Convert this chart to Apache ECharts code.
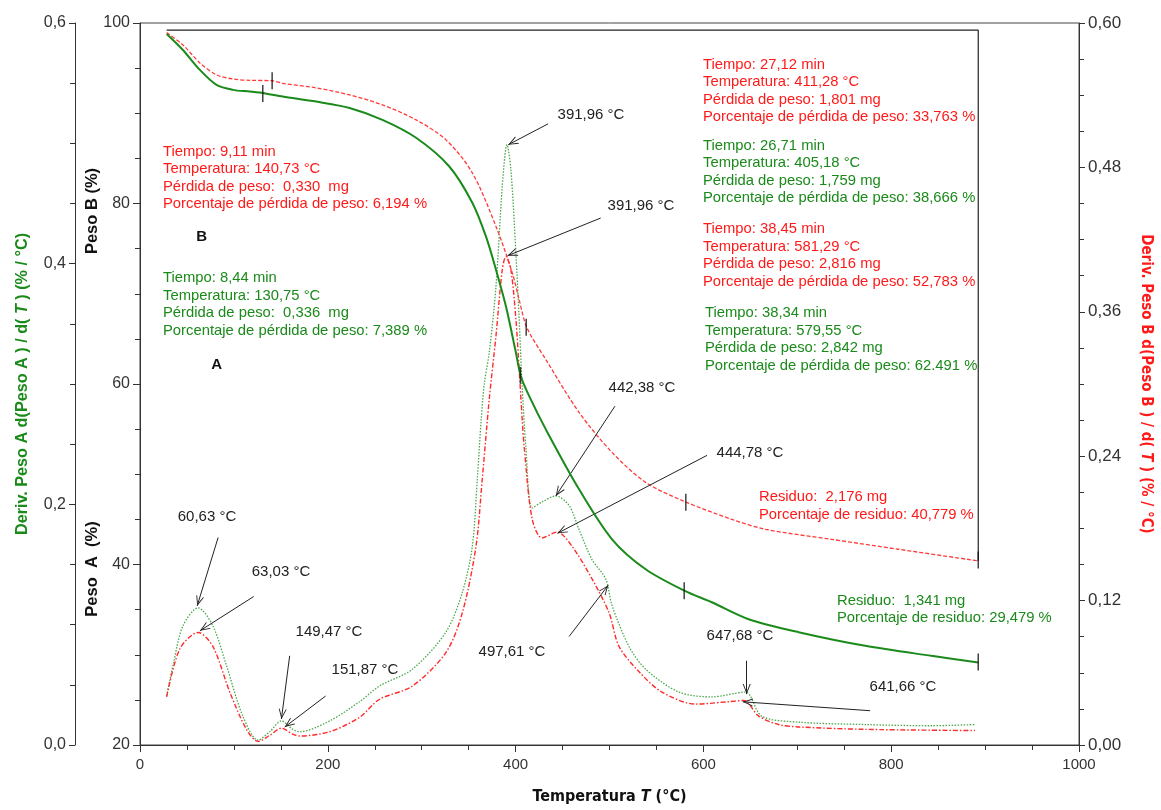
<!DOCTYPE html>
<html><head><meta charset="utf-8">
<script src="https://cdn.jsdelivr.net/npm/echarts@6/dist/echarts.min.js"></script>
<style>html,body{margin:0;padding:0;background:#fff}#c{width:1161px;height:810px}</style>
</head><body><div id="c"></div>
<script>
// ---- TG curve A (green solid), Peso A (%)
const tgTempA = [28.4,45.7,63.8,81.5,98.8,116.9,131.8,152.0,187.8,223.2,258.2,294.0,329.4,353.9,368.4,379.1,389.7,400.3,405.6,414.5,432.2,467.6,502.7,538.5,580.2,608.9,648.2,701.4,772.3,842.7,892.7];
const pesoA    = [98.78,97.01,94.8,93.14,92.59,92.40,92.22,91.85,91.29,90.59,89.27,87.28,84.10,80.08,76.35,72.67,68.61,63.49,60.86,58.65,54.97,48.33,42.79,39.47,37.07,35.82,33.94,32.50,30.99,29.88,29.15];
// ---- TG curve B (red dashed), Peso B (%)
const tgTempB = [28.4,45.7,63.8,81.5,98.8,116.9,141.0,152.0,187.8,223.2,258.2,294.0,325.9,353.9,379.1,396.4,403.8,412.0,432.2,467.6,502.7,538.5,582.0,630.2,666.0,736.4,807.6,892.7];
const pesoB    = [98.93,97.57,95.57,94.25,93.80,93.65,93.6,93.3,92.81,92.03,90.93,89.27,87.05,83.40,77.46,72.34,69.35,66.25,62.71,56.85,52.42,49.10,46.89,45.01,43.90,42.79,41.69,40.40];
// ---- DTG A (green dotted), left outer axis
const dtgTempA = [28.4,35.1,45.7,62.0,77.6,92.1,109.5,125.7,138.1,150.6,162.6,170.0,201.9,233.8,255.0,290.1,325.9,343.3,353.9,359.2,363.4,366.6,371.9,379.1,385.8,390.8,395.0,400.3,403.8,407.0,410.9,417.6,428.3,442.8,457.0,467.6,481.4,496.0,502.7,520.7,538.5,573.9,608.9,644.7,662.1,701.4,772.3,842.7,889.2];
const derivA   = [0.041,0.066,0.099,0.114,0.099,0.066,0.024,0.004,0.011,0.020,0.013,0.011,0.020,0.036,0.049,0.063,0.094,0.127,0.165,0.221,0.271,0.300,0.326,0.381,0.464,0.499,0.478,0.409,0.354,0.298,0.248,0.197,0.202,0.207,0.199,0.179,0.154,0.138,0.116,0.082,0.063,0.044,0.040,0.044,0.024,0.019,0.017,0.016,0.017];
// ---- DTG B (red dash-dot), right axis
const dtgTempB = [28.4,42.5,62.0,77.6,95.6,113.4,125.7,138.1,150.6,162.6,170.0,201.9,233.8,255.0,290.1,325.9,343.3,357.8,364.5,371.9,379.1,385.8,389.7,395.0,400.3,403.8,407.0,409.1,417.6,428.3,444.2,460.2,481.4,499.5,510.1,531.3,555.8,591.6,627.0,643.0,658.9,680.1,701.4,772.3,889.2];
const derivB   = [0.040,0.080,0.0935,0.082,0.044,0.013,0.003,0.008,0.014,0.009,0.0075,0.011,0.023,0.038,0.049,0.077,0.110,0.165,0.221,0.287,0.340,0.395,0.406,0.395,0.354,0.312,0.271,0.248,0.188,0.172,0.177,0.165,0.138,0.110,0.082,0.061,0.044,0.034,0.036,0.037,0.024,0.017,0.015,0.013,0.012];
// ---- step markers on TG curves
const markTemp = [130.75,140.73,405.18,411.28,579.55,581.29,892.7,892.7];
const markPeso = [92.2,93.6,60.95,66.3,37.1,46.9,29.2,40.5];
// ---- reference line (black)
const refTemp = [28.4,892.7,892.7];
const refPeso = [99.2,99.2,40.4];
// ---- arrows [tailT, tailD, headT, headD] in derivative units
const arrows = [
  [83.2,0.1724,60.9,0.1156],
  [121.1,0.1234,63.8,0.0949],
  [159.4,0.0741,150.6,0.0216],
  [197.7,0.0407,154.1,0.0149],
  [434.6,0.5162,392.1,0.4988],
  [490.6,0.4379,391.4,0.4066],
  [505.8,0.2816,442.8,0.2069],
  [603.9,0.2407,444.5,0.1759],
  [457.0,0.0902,498.7,0.1328],
  [646.1,0.0700,646.1,0.0423],
  [777.6,0.0285,641.9,0.0359]
];

const zip = (a,b) => a.map((v,i)=>[v,b[i]]);
const FF = '"Liberation Sans", Arial, sans-serif';
const NARROW = '"Liberation Sans Narrow", "DejaVu Sans Condensed", "Liberation Sans", sans-serif';
const GREEN = '#1a8a1a', RED = '#ff1a1a';
const arrowPath = 'path://M5,0 M5,10 L10,20 L8.8,20 L5,12.4 L1.2,20 L0,20 Z';
const TF = '14.8px ' + FF;
const PF = '15px ' + FF;

function txt(x,y,text,fill,opts){
  opts = opts||{};
  return {type:'text', x:x, y:y, rotation:opts.rot||0, silent:true,
    style:{text:text, fill:fill, font:(opts.font||TF), align:opts.align||'left',
      verticalAlign:opts.va||'top', lineHeight:opts.lh||17.5}};
}
const pk = (x,y,t) => txt(x,y,t,'#222',{font:PF,align:'center',va:'middle'});

const graphics = [
  txt(163,143,'Tiempo: 9,11 min\nTemperatura: 140,73 °C\nPérdida de peso:  0,330  mg\nPorcentaje de pérdida de peso: 6,194 %',RED),
  txt(163,269.5,'Tiempo: 8,44 min\nTemperatura: 130,75 °C\nPérdida de peso:  0,336  mg\nPorcentaje de pérdida de peso: 7,389 %',GREEN),
  txt(703,56,'Tiempo: 27,12 min\nTemperatura: 411,28 °C\nPérdida de peso: 1,801 mg\nPorcentaje de pérdida de peso: 33,763 %',RED),
  txt(703,137,'Tiempo: 26,71 min\nTemperatura: 405,18 °C\nPérdida de peso: 1,759 mg\nPorcentaje de pérdida de peso: 38,666 %',GREEN),
  txt(703,220.5,'Tiempo: 38,45 min\nTemperatura: 581,29 °C\nPérdida de peso: 2,816 mg\nPorcentaje de pérdida de peso: 52,783 %',RED),
  txt(705,304.5,'Tiempo: 38,34 min\nTemperatura: 579,55 °C\nPérdida de peso: 2,842 mg\nPorcentaje de pérdida de peso: 62.491 %',GREEN),
  txt(759,488.5,'Residuo:  2,176 mg\nPorcentaje de residuo: 40,779 %',RED),
  txt(837,592,'Residuo:  1,341 mg\nPorcentaje de residuo: 29,479 %',GREEN),
  txt(201.7,236.7,'B','#111',{font:'bold 15px '+FF,align:'center',va:'middle'}),
  txt(216.7,365,'A','#111',{font:'bold 15px '+FF,align:'center',va:'middle'}),
  pk(207,517,'60,63 °C'),
  pk(281,572,'63,03 °C'),
  pk(329,632,'149,47 °C'),
  pk(365,670,'151,87 °C'),
  pk(591,115,'391,96 °C'),
  pk(641,206,'391,96 °C'),
  pk(642,388,'442,38 °C'),
  pk(750,453,'444,78 °C'),
  pk(512,652,'497,61 °C'),
  pk(740,636,'647,68 °C'),
  pk(903,687,'641,66 °C'),
  txt(92,211,'Peso B (%)','#111',{font:'bold 16.5px '+FF,align:'center',va:'middle',rot:Math.PI/2}),
  txt(92,569,'Peso  A  (%)','#111',{font:'bold 16.5px '+FF,align:'center',va:'middle',rot:Math.PI/2})
];

const axisCommon = {
  axisLine:{show:true, lineStyle:{color:'#333', width:1}},
  axisTick:{show:true, length:7, lineStyle:{color:'#333'}},
  minorTick:{show:true, splitNumber:4, length:5, lineStyle:{color:'#333'}},
  splitLine:{show:false},
  axisLabel:{color:'#333', fontSize:16, fontFamily:FF}
};

const option = {
  animation:false,
  backgroundColor:'#fff',
  grid:{left:140, right:80, top:23, bottom:64, show:true, borderColor:'#444', borderWidth:1},
  xAxis:{type:'value', min:0, max:1000, interval:200, ...axisCommon,
    axisLabel:{...axisCommon.axisLabel, fontSize:15, margin:12, formatter:v=>String(v)},
    name:'{b|Temperatura }{i|T}{b| (°C)}', nameLocation:'middle', nameGap:44,
    nameTextStyle:{rich:{b:{fontFamily:NARROW, fontWeight:'bold', fontSize:16, color:'#111'},
                         i:{fontFamily:NARROW, fontWeight:'bold', fontStyle:'italic', fontSize:16, color:'#111'}}}},
  yAxis:[
    {type:'value', min:20, max:100, interval:20, position:'left', ...axisCommon,
     axisLabel:{...axisCommon.axisLabel, margin:10}},
    {type:'value', min:0, max:0.6, interval:0.2, position:'left', offset:65, ...axisCommon,
     axisTick:{show:true, length:6, lineStyle:{color:'#333'}},
     axisLabel:{...axisCommon.axisLabel, margin:9, formatter:v=>v.toFixed(1).replace('.',',')},
     name:'{b|Deriv. Peso A d(Peso A ) / d( }{i|T}{b| ) (% / °C)}', nameLocation:'middle', nameGap:44,
     nameTextStyle:{rich:{b:{fontFamily:FF, fontWeight:'bold', fontSize:16.2, color:GREEN},
                          i:{fontFamily:FF, fontWeight:'bold', fontStyle:'italic', fontSize:16.2, color:GREEN}}}},
    {type:'value', min:0, max:0.6, interval:0.12, position:'right', ...axisCommon,
     axisTick:{show:true, length:6, lineStyle:{color:'#333'}},
     axisLabel:{...axisCommon.axisLabel, fontSize:17, margin:9, formatter:v=>v.toFixed(2).replace('.',',')},
     name:'{b|Deriv. Peso B d(Peso B ) / d( }{i|T}{b| ) (% / °C)}', nameLocation:'middle', nameGap:59, nameRotate:-90,
     nameTextStyle:{rich:{b:{fontFamily:NARROW, fontWeight:'bold', fontSize:15, color:RED},
                          i:{fontFamily:NARROW, fontWeight:'bold', fontStyle:'italic', fontSize:15, color:RED}}}}
  ],
  series:[
    {type:'line', yAxisIndex:0, data:zip(tgTempA,pesoA), showSymbol:false, smooth:0.3,
     lineStyle:{color:GREEN, width:2}, z:5},
    {type:'line', yAxisIndex:0, data:zip(tgTempB,pesoB), showSymbol:false, smooth:0.3,
     lineStyle:{color:'#ff3a3a', width:1.3, type:[4,2]}, z:4},
    {type:'line', yAxisIndex:1, data:zip(dtgTempA,derivA), showSymbol:false, smooth:0.3,
     lineStyle:{color:'#4aa84a', width:1.3, type:[1.5,1.5]}, z:3,
     markLine:{silent:true, animation:false, symbol:['none',arrowPath], symbolSize:[8,20],
       lineStyle:{color:'#222', width:1, type:'solid'}, itemStyle:{color:'#222'}, label:{show:false},
       emphasis:{disabled:true},
       data:arrows.map(a=>[{coord:[a[0],a[1]]},{coord:[a[2],a[3]]}])}},
    {type:'line', yAxisIndex:2, data:zip(dtgTempB,derivB), showSymbol:false, smooth:0.3,
     lineStyle:{color:'#ff2a2a', width:1.4, type:[5,2,1.5,2]}, z:3},
    {type:'line', yAxisIndex:0, data:zip(refTemp,refPeso), showSymbol:false,
     lineStyle:{color:'#222', width:1.2}, z:2},
    {type:'scatter', yAxisIndex:0, data:zip(markTemp,markPeso), symbol:'rect', symbolSize:[1.5,17],
     itemStyle:{color:'#111'}, z:6, silent:true}
  ],
  graphic:graphics
};
const chart = echarts.init(document.getElementById('c'));
chart.setOption(option);
</script></body></html>
